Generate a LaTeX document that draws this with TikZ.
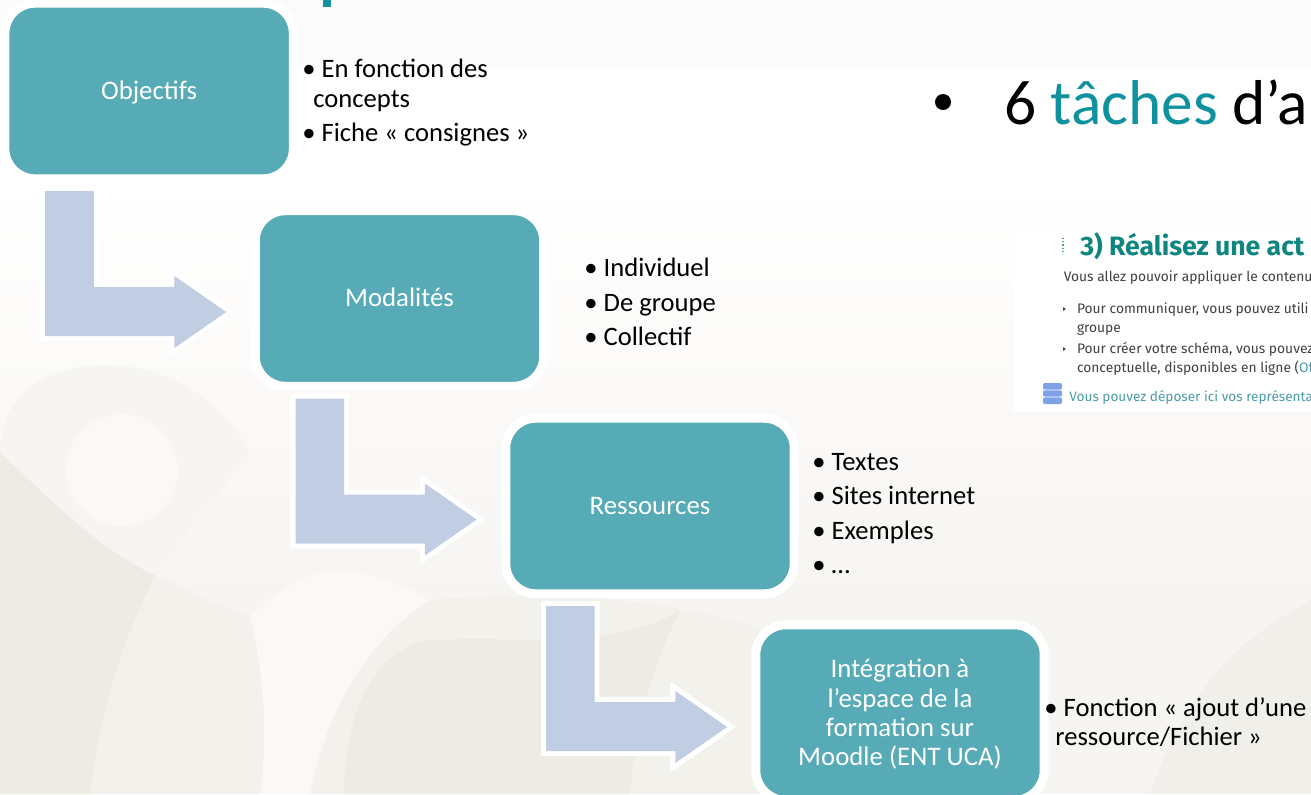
\documentclass[tikz,border=0pt]{standalone}
\usepackage{fontspec}
\setmainfont{Carlito}
\newfontfamily\moodlefont{Fira Sans}
\usetikzlibrary{calc}
\definecolor{boxteal}{HTML}{57ABB6}
\definecolor{arrowblue}{HTML}{C1CDE2}
\definecolor{titleteal}{HTML}{0F919E}
\definecolor{headteal}{HTML}{0F8580}
\definecolor{linkteal}{HTML}{4B9CA6}
\definecolor{iconblue}{HTML}{7DA3E6}
\definecolor{paperdark}{HTML}{EEEBE5}
\definecolor{papermid}{HTML}{F3F1EC}
\definecolor{paperlight}{HTML}{F7F5F2}
\definecolor{paperpale}{HTML}{FAF9F6}
\tikzset{stepbox/.style={draw=white,line width=4.5pt,fill=boxteal,rounded corners=15pt,
    minimum width=144.2pt,minimum height=87.8pt,inner sep=0pt,outer sep=0pt,text=white,align=flush center,
    text width=120pt,font=\fontsize{13.4}{14.65}\selectfont,
    execute at begin node={\rule[-3pt]{0pt}{14pt}}}}
\tikzset{notes/.style={anchor=north west,inner sep=0pt,align=left,font=\fontsize{13.3}{14.65}\selectfont}}
\tikzset{shot/.style={anchor=base west,inner sep=0pt,font=\moodlefont\fontsize{6.9}{7}\selectfont,text=black!75}}
\newcommand{\bentarrow}[1]{%
  \fill[shift={(#1)},arrowblue,preaction={draw=white,line width=5pt}]
    (0,0) -- (24.3,0) -- (24.3,-48) -- (64.6,-48) -- (64.6,-42.5) -- (90.5,-60.5)
    -- (64.6,-78.5) -- (64.6,-72.5) -- (0,-72.5) -- cycle;}
\begin{document}
\begin{tikzpicture}[x=1pt,y=1pt]
    \useasboundingbox (0,0) rectangle (655.5,-397);
    \clip (0,0) rectangle (655.5,-397);
    \fill[white] (0,0) rectangle (655.5,-397);
    \fill[black!1.5] (0,0) rectangle (655.5,-34);
    \shade[top color=white,bottom color=paperlight] (0,-90) rectangle (655.5,-300);
    \fill[paperlight] (0,-300) rectangle (655.5,-397);
    % background swirls
    \fill[paperlight] (0,-226) .. controls (0,-200) and (20,-180) .. (60,-183)
        .. controls (90,-185) and (115,-205) .. (125,-228) .. controls (105,-250) and (90,-270) .. (78,-288)
        .. controls (50,-275) and (20,-250) .. (0,-226) -- cycle;
    \fill[paperpale] (61,-235) circle (28);
    \fill[paperdark] (0,-226) .. controls (25,-250) and (50,-275) .. (78,-288)
        .. controls (60,-320) and (50,-360) .. (45,-397) -- (0,-397) -- cycle;
    \fill[papermid] (78,-288) .. controls (95,-296) and (110,-303) .. (125,-308)
        .. controls (135,-310) and (150,-300) .. (165,-325)
        .. controls (150,-345) and (135,-370) .. (130,-397) -- (45,-397)
        .. controls (50,-360) and (60,-320) .. (78,-288) -- cycle;
    \fill[paperpale] (125,-308) .. controls (150,-285) and (170,-275) .. (215,-300)
        .. controls (185,-320) and (165,-350) .. (155,-397) -- (130,-397)
        .. controls (135,-360) and (130,-330) .. (125,-308) -- cycle;
    \fill[papermid] (155,-397) .. controls (165,-350) and (185,-320) .. (215,-300)
        .. controls (280,-295) and (340,-300) .. (385,-316) -- (385,-397) -- cycle;
    \fill[paperdark] (172,-397) .. controls (172,-360) and (185,-325) .. (215,-320)
        .. controls (260,-318) and (310,-325) .. (340,-305)
        .. controls (325,-335) and (318,-365) .. (315,-397) -- cycle;
    \fill[paperdark,opacity=.6] (655.5,-300) .. controls (620,-320) and (595,-340) .. (575,-397)
        -- (655.5,-397) -- cycle;

    % title fragment
    \fill[titleteal] (161.5,0) rectangle (165.5,-3.3);

    \node[stepbox] (objectifs) at (74.55,-45.5) {Objectifs};
    \node[stepbox] (modalites) at (199.75,-149.25) {Modalités};
    \node[stepbox] (ressources) at (325,-253) {Ressources};
    \node[stepbox] (integration) at (450,-356.3) {Intégration à\\l’espace de la\\formation sur\\Moodle (ENT UCA)};

    \coordinate (elbowa) at ($(objectifs.south west)+(20.15,-6.1)$);
    \coordinate (elbowb) at ($(modalites.south west)+(20.15,-6.1)$);
    \coordinate (elbowc) at ($(ressources.south west)+(20.15,-6.1)$);
    \bentarrow{elbowa}
    \bentarrow{elbowb}
    \bentarrow{elbowc}

    \node[notes] (objnotes) at (151,-29.5) {• En fonction des\\[0pt]\hspace*{5.5pt}concepts\\[2.6pt]• Fiche « consignes »};
    \node[notes] (modnotes) at (292,-129) {• Individuel\\[2.6pt]• De groupe\\[2.6pt]• Collectif};
    \node[notes] (resnotes) at (406,-226.5) {• Textes\\[2.6pt]• Sites internet\\[2.6pt]• Exemples\\[2.6pt]• …};
    \node[notes] (intnotes) at (522,-348.5) {• Fonction « ajout d’une\\[0pt]\hspace*{5.5pt}ressource/Fichier »};

    % bullet line on the right
    \fill (471.5,-51) circle (4pt);
    \node[anchor=base west,inner sep=0pt,font=\fontsize{31.7}{33}\selectfont] (tasks) at (502,-62)
        {6 \textcolor{titleteal}{tâches} d’a};

    % moodle screenshot
    \fill[white] (507,-117.5) rectangle (655.5,-206);
    \draw[linkteal,densely dotted,line width=.6pt] (531.5,-119) -- (531.5,-127);
    \node[shot,font=\moodlefont\bfseries\fontsize{13.3}{14}\selectfont,text=headteal] (acthead) at (540,-127.5) {3) Réalisez une act};
    \node[shot] (lineone) at (531.7,-140.5) {Vous allez pouvoir appliquer le contenu};
    \node[shot] (linetwo) at (538.3,-156.5) {Pour communiquer, vous pouvez utili};
    \node[shot] (linethree) at (538.3,-166) {groupe};
    \node[shot] (linefour) at (538.3,-176.5) {Pour créer votre schéma, vous pouvez};
    \node[shot] (linefive) at (538.3,-186) {conceptuelle, disponibles en ligne (\textcolor{linkteal}{Of}};
    \fill[black!70] (531.5,-153.5) -- (533,-154.5) -- (531.5,-155.5) -- cycle;
    \fill[black!70] (531.5,-173.5) -- (533,-174.5) -- (531.5,-175.5) -- cycle;
    \node[shot,font=\moodlefont\fontsize{6.8}{7}\selectfont,text=linkteal] (linesix) at (534.5,-200.5) {Vous pouvez déposer ici vos représenta};
    \fill[iconblue,rounded corners=1pt] (521.5,-191.5) rectangle (531,-194.8);
    \fill[iconblue,rounded corners=1pt] (521.5,-195.2) rectangle (531,-198.3);
    \fill[iconblue,rounded corners=1pt] (521.5,-198.7) rectangle (531,-202);
\end{tikzpicture}
\end{document}
